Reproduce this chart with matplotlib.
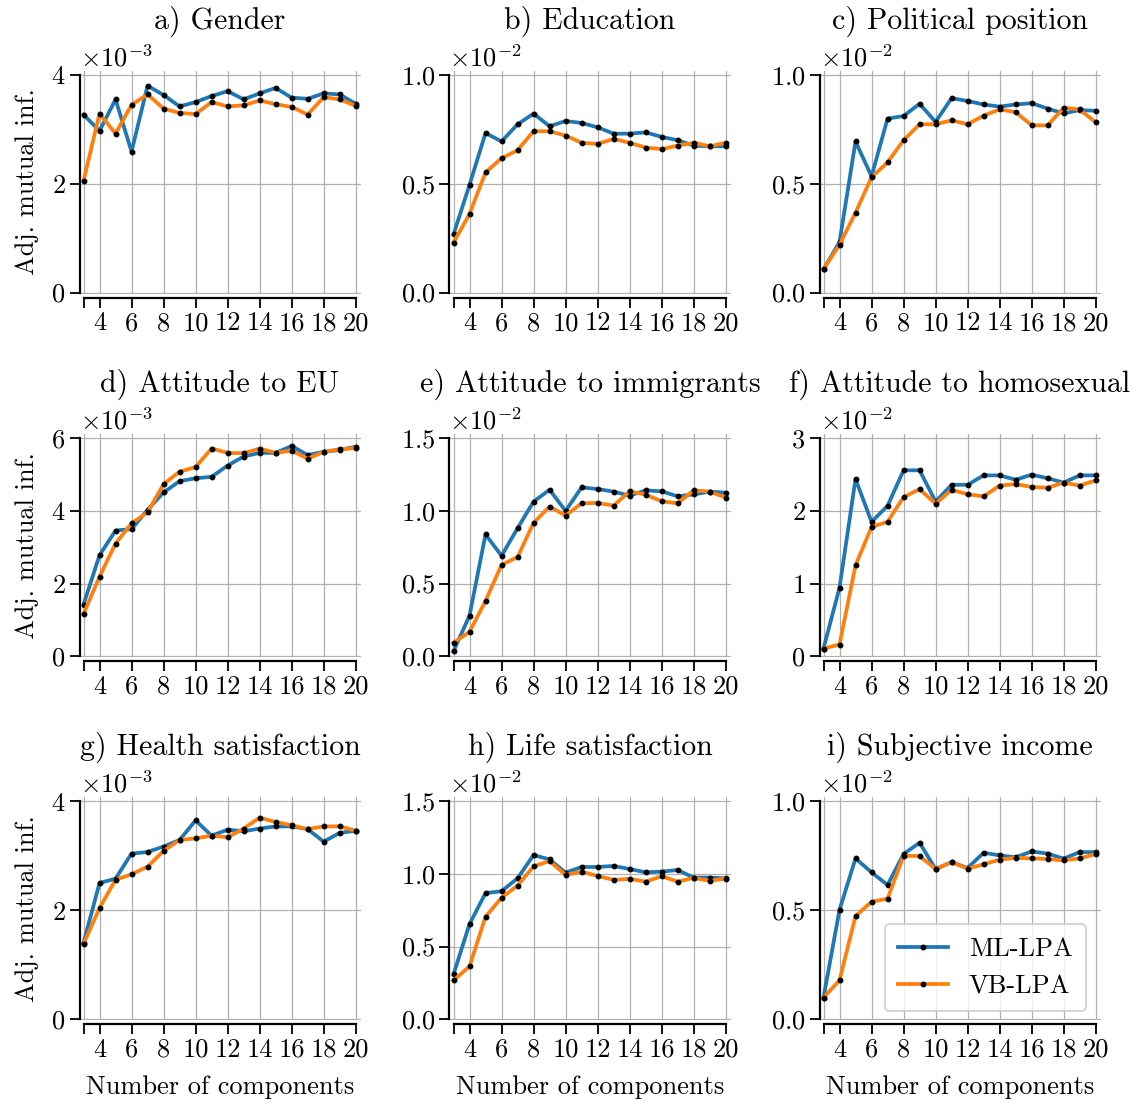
import numpy as np
import matplotlib
matplotlib.use("Agg")
import matplotlib.pyplot as plt
from matplotlib.ticker import ScalarFormatter

plt.rcParams['font.family'] = 'serif'
plt.rcParams['font.serif'] = ['cmr10']
plt.rcParams['mathtext.fontset'] = 'cm'
plt.rcParams['axes.formatter.use_mathtext'] = True
plt.rcParams['axes.unicode_minus'] = True

components = list(range(3, 21))

titles = ["a) Gender", "b) Education", "c) Political position",
          "d) Attitude to EU", "e) Attitude to immigrants", "f) Attitude to homosexual",
          "g) Health satisfaction", "h) Life satisfaction", "i) Subjective income"]

# values shown with their axis multiplier (x1e-3 or x1e-2)
ml_gender = [3.27, 2.97, 3.55, 2.59, 3.80, 3.63, 3.42, 3.50, 3.61, 3.70, 3.55, 3.66, 3.76, 3.58, 3.56, 3.66, 3.64, 3.47]
vb_gender = [2.05, 3.29, 2.92, 3.45, 3.64, 3.38, 3.30, 3.28, 3.50, 3.42, 3.44, 3.53, 3.46, 3.41, 3.27, 3.59, 3.55, 3.43]

ml_education = [0.267, 0.495, 0.733, 0.694, 0.773, 0.822, 0.764, 0.788, 0.779, 0.759, 0.730, 0.730, 0.736, 0.715, 0.700, 0.675, 0.672, 0.672]
vb_education = [0.230, 0.361, 0.552, 0.617, 0.654, 0.741, 0.741, 0.721, 0.688, 0.683, 0.706, 0.688, 0.666, 0.659, 0.675, 0.688, 0.672, 0.688]

ml_political = [0.107, 0.232, 0.694, 0.534, 0.799, 0.811, 0.867, 0.784, 0.893, 0.880, 0.864, 0.854, 0.864, 0.870, 0.845, 0.823, 0.838, 0.835]
vb_political = [0.107, 0.220, 0.367, 0.530, 0.598, 0.700, 0.773, 0.773, 0.791, 0.773, 0.813, 0.841, 0.829, 0.768, 0.768, 0.849, 0.841, 0.782]

ml_eu = [1.42, 2.78, 3.46, 3.50, 4.03, 4.51, 4.82, 4.90, 4.94, 5.25, 5.50, 5.60, 5.60, 5.79, 5.54, 5.63, 5.68, 5.77]
vb_eu = [1.16, 2.19, 3.10, 3.66, 3.96, 4.74, 5.08, 5.21, 5.72, 5.60, 5.59, 5.72, 5.60, 5.66, 5.44, 5.63, 5.70, 5.73]

ml_immigrants = [0.034, 0.279, 0.838, 0.691, 0.881, 1.064, 1.146, 1.000, 1.162, 1.151, 1.133, 1.105, 1.142, 1.135, 1.101, 1.114, 1.133, 1.126]
vb_immigrants = [0.092, 0.167, 0.380, 0.629, 0.682, 0.918, 1.030, 0.968, 1.053, 1.055, 1.037, 1.135, 1.112, 1.066, 1.053, 1.142, 1.133, 1.092]

ml_homosexual = [0.105, 0.943, 2.44, 1.85, 2.07, 2.56, 2.56, 2.13, 2.36, 2.36, 2.49, 2.49, 2.43, 2.50, 2.45, 2.39, 2.49, 2.49]
vb_homosexual = [0.105, 0.16, 1.25, 1.78, 1.85, 2.19, 2.30, 2.10, 2.29, 2.23, 2.20, 2.35, 2.37, 2.33, 2.32, 2.39, 2.35, 2.42]

ml_health = [1.40, 2.50, 2.58, 3.04, 3.07, 3.17, 3.29, 3.65, 3.37, 3.48, 3.45, 3.50, 3.54, 3.54, 3.49, 3.26, 3.42, 3.46]
vb_health = [1.38, 2.04, 2.56, 2.66, 2.80, 3.09, 3.29, 3.32, 3.37, 3.34, 3.50, 3.70, 3.62, 3.56, 3.49, 3.54, 3.54, 3.46]

ml_life = [0.308, 0.655, 0.868, 0.881, 0.970, 1.130, 1.100, 1.009, 1.048, 1.048, 1.055, 1.034, 1.011, 1.016, 1.027, 0.975, 0.975, 0.970]
vb_life = [0.267, 0.363, 0.705, 0.836, 0.920, 1.052, 1.089, 0.993, 1.016, 0.986, 0.959, 0.966, 0.947, 0.984, 0.947, 0.973, 0.952, 0.968]

ml_income = [0.099, 0.502, 0.738, 0.674, 0.616, 0.758, 0.810, 0.689, 0.721, 0.694, 0.764, 0.752, 0.743, 0.770, 0.760, 0.737, 0.767, 0.767]
vb_income = [0.099, 0.178, 0.473, 0.539, 0.553, 0.750, 0.749, 0.689, 0.721, 0.691, 0.711, 0.732, 0.741, 0.738, 0.735, 0.729, 0.738, 0.758]

ml_series = [ml_gender, ml_education, ml_political, ml_eu, ml_immigrants, ml_homosexual, ml_health, ml_life, ml_income]
vb_series = [vb_gender, vb_education, vb_political, vb_eu, vb_immigrants, vb_homosexual, vb_health, vb_life, vb_income]
scales = [1e-3, 1e-2, 1e-2, 1e-3, 1e-2, 1e-2, 1e-3, 1e-2, 1e-2]
yticks_list = [[0, 2, 4], [0, 0.5, 1.0], [0, 0.5, 1.0],
               [0, 2, 4, 6], [0, 0.5, 1.0, 1.5], [0, 1, 2, 3],
               [0, 2, 4], [0, 0.5, 1.0, 1.5], [0, 0.5, 1.0]]
xticks = [3, 4, 6, 8, 10, 12, 14, 16, 18, 20]
xticklabels = [""] + [str(v) for v in xticks[1:]]

blue = "#1f77b4"
orange = "#ff7f0e"

W, H = 1148, 1104
fig = plt.figure(figsize=(W / 100, H / 100), dpi=100)

col_left = [79.5, 449.5, 819.5]
row_top = [70.5, 434.0, 797.0]
ax_w = 281.0
ax_h = 223.0

FS = 19
TFS = 21.5

for i in range(9):
    r, c = divmod(i, 3)
    left = col_left[c] / W
    bottom = 1 - (row_top[r] + ax_h) / H
    ax = fig.add_axes([left, bottom, ax_w / W, ax_h / H])
    s = scales[i]
    ml = np.array(ml_series[i]) * s
    vb = np.array(vb_series[i]) * s
    ax.plot(components, ml, color=blue, lw=2.7, marker='o', ms=3.2,
            mfc='black', mec='black', label="ML-LPA", zorder=3)
    ax.plot(components, vb, color=orange, lw=2.7, marker='o', ms=3.2,
            mfc='black', mec='black', label="VB-LPA", zorder=3)
    yt = np.array(yticks_list[i]) * s
    top = yt[-1]
    ax.set_ylim(-0.004 * top, top * 1.02)
    ax.set_yticks(yt)
    fmt = ScalarFormatter(useMathText=True)
    fmt.set_powerlimits((0, 0))
    ax.yaxis.set_major_formatter(fmt)
    ax.yaxis.get_offset_text().set_fontsize(FS)
    ax.set_xlim(2.75, 20.3)
    ax.set_xticks(xticks)
    ax.set_xticklabels(xticklabels)
    ax.grid(True, color="#b0b0b0", lw=0.9, zorder=0)
    ax.set_axisbelow(True)
    for sp in ['top', 'right']:
        ax.spines[sp].set_visible(False)
    ax.spines['left'].set_bounds(0, top)
    ax.spines['bottom'].set_bounds(3, 20)
    ax.spines['bottom'].set_position(('outward', 3))
    ax.spines['left'].set_linewidth(1.6)
    ax.spines['bottom'].set_linewidth(1.6)
    ax.tick_params(axis='both', labelsize=FS, length=7, width=1.3, color='black', pad=3)
    ax.text(0.5, 1.0 + 42.0 / ax_h, titles[i], transform=ax.transAxes,
            ha='center', va='baseline', fontsize=TFS)
    if c == 0:
        ax.set_ylabel("Adj. mutual inf.", fontsize=FS, labelpad=9)
    if r == 2:
        ax.set_xlabel("Number of components", fontsize=FS, labelpad=10)
    if i == 8:
        leg = ax.legend(loc='lower right', fontsize=FS, frameon=True, fancybox=True,
                        edgecolor='#cccccc', framealpha=0.8, borderpad=0.5,
                        handlelength=1.9, bbox_to_anchor=(0.995, -0.02))
        leg.get_frame().set_linewidth(1.5)

fig.savefig("out.png", dpi=100)
